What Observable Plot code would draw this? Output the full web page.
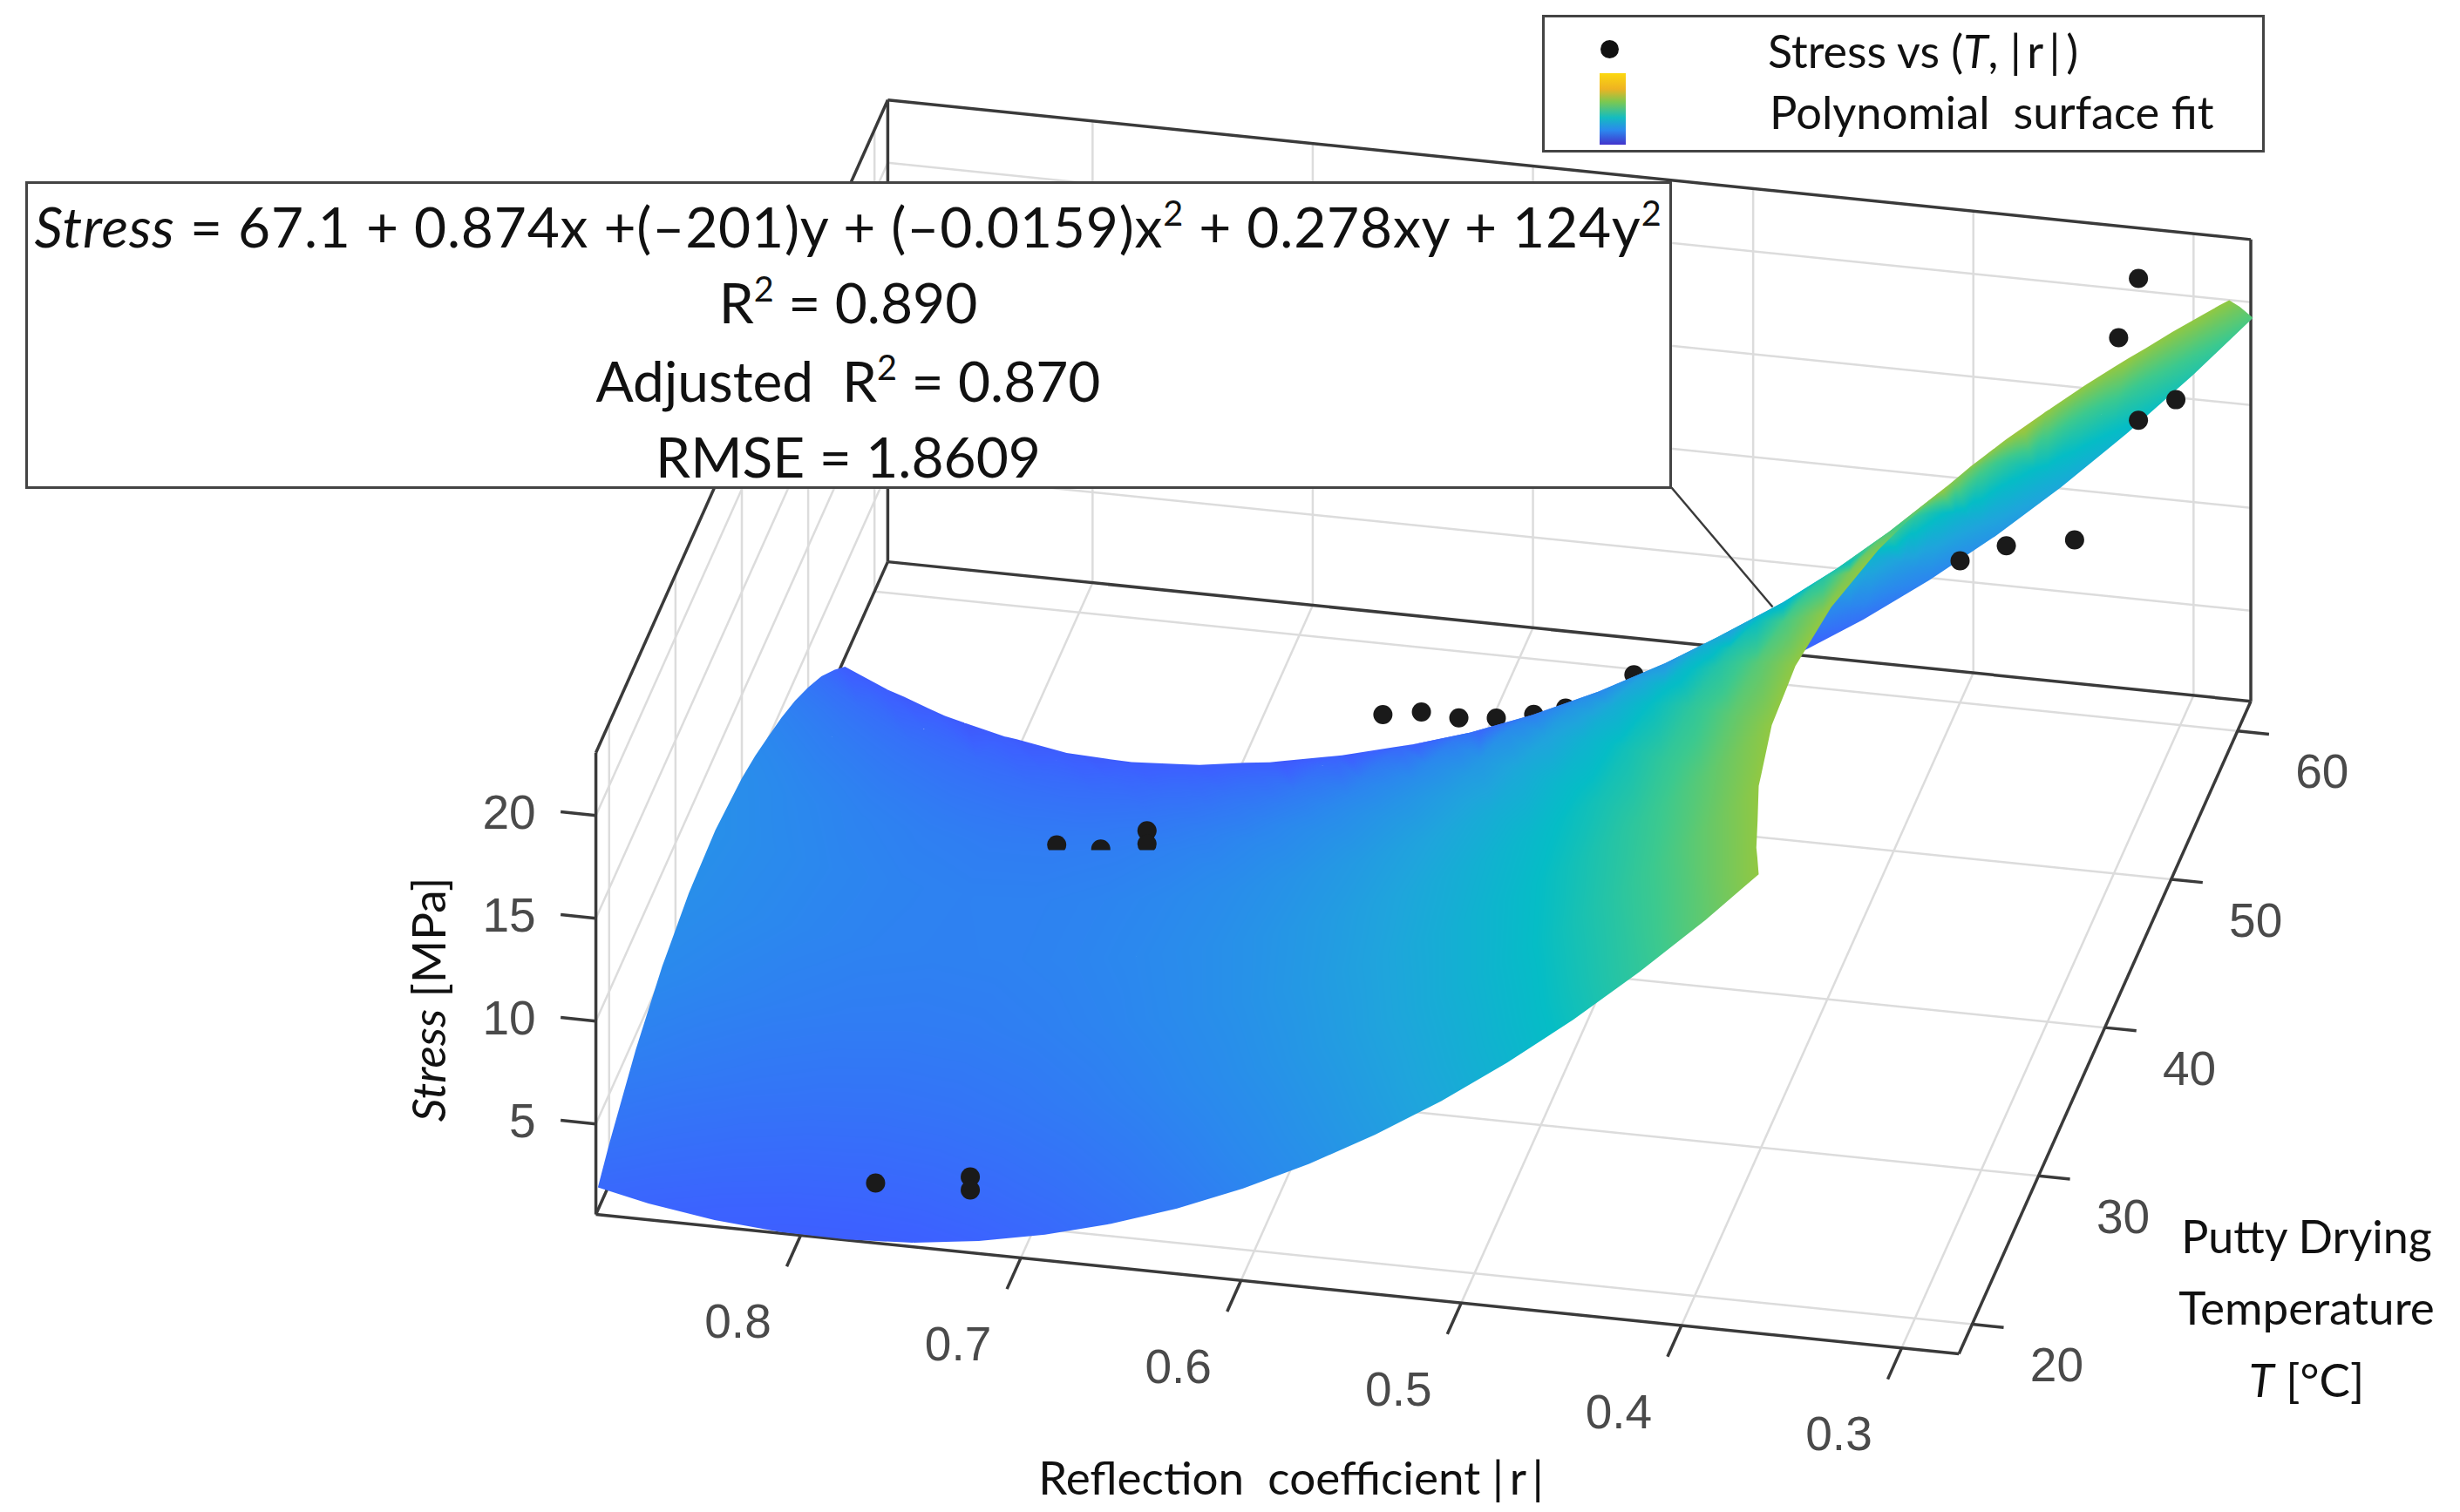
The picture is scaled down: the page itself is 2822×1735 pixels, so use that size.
<!DOCTYPE html>
<html>
<head>
<meta charset="utf-8">
<script src="https://cdn.jsdelivr.net/npm/d3@7"></script>
<script src="https://cdn.jsdelivr.net/npm/@observablehq/plot@0.6"></script>
<style>
html,body{margin:0;padding:0;background:#fff}
#wrap{position:relative;width:2822px;height:1735px;overflow:hidden;font-family:Lato,"Open Sans",sans-serif;color:#111}
#wrap svg{position:absolute;left:0;top:0}
.box{position:absolute;background:#fff;border:3px solid #444;box-sizing:border-box}
.t{position:absolute;white-space:pre;transform:translate(-50%,-50%);transform-origin:center}
.l{position:absolute;white-space:pre;transform:translateY(-50%)}
sup{font-size:.62em;line-height:0;vertical-align:.62em}
</style>
</head>
<body>
<div id="wrap"></div>
<script>
// Reflection coefficient |r| samples (columns) and drying temperature T samples (rows)
const rValues=[0.273,0.30,0.33,0.36,0.39,0.42,0.45,0.48,0.51,0.54,0.57,0.60,0.63,0.66,0.69,0.72,0.75,0.78,0.81,0.84,0.87,0.893];
const tValues=[18.3,20,24,28,32,36,40,42,44,46,48,50,52,54,56,58,60,62];
// Stress of the fitted surface at each (T, r)
const stressT18=[33.52,30.15,26.62,23.30,20.21,17.36,14.71,12.29,10.09,8.13,6.38,4.85,3.55,2.48,1.62,0.99,0.57,0.40,0.43,0.69,1.17,1.70];
const stressT20=[34.11,30.75,27.23,23.93,20.86,18.01,15.38,12.98,10.80,8.84,7.11,5.60,4.31,3.24,2.40,1.79,1.39,1.22,1.27,1.54,2.04,2.58];
const stressT24=[35.11,31.78,28.29,25.03,21.99,19.17,16.58,14.21,12.06,10.14,8.44,6.96,5.71,4.68,3.87,3.28,2.92,2.78,2.87,3.18,3.71,4.27];
const stressT28=[35.60,32.30,28.85,25.62,22.61,19.83,17.27,14.93,12.82,10.93,9.26,7.82,6.60,5.60,4.82,4.27,3.94,3.84,3.96,4.30,4.86,5.45];
const stressT32=[35.59,32.32,28.90,25.70,22.73,19.98,17.45,15.15,13.07,11.21,9.58,8.16,6.98,6.01,5.27,4.75,4.46,4.39,4.54,4.91,5.51,6.12];
const stressT36=[35.06,31.82,28.44,25.27,22.33,19.62,17.12,14.85,12.80,10.98,9.38,8.00,6.85,5.92,5.21,4.73,4.46,4.43,4.61,5.02,5.65,6.29];
const stressT40=[34.03,30.82,27.46,24.33,21.43,18.74,16.28,14.05,12.03,10.24,8.68,7.33,6.21,5.31,4.64,4.19,3.96,3.95,4.18,4.61,5.28,5.94];
const stressT42=[33.32,30.13,26.79,23.67,20.79,18.12,15.67,13.46,11.45,9.68,8.14,6.80,5.70,4.82,4.16,3.73,3.52,3.53,3.77,4.22,4.90,5.58];
const stressT44=[32.49,29.31,25.99,22.89,20.02,17.37,14.94,12.74,10.75,8.99,7.47,6.15,5.07,4.20,3.56,3.15,2.95,2.98,3.23,3.70,4.40,5.09];
const stressT46=[31.52,28.36,25.06,21.97,19.12,16.52,14.13,11.99,10.02,8.28,6.77,5.47,4.40,3.55,2.93,2.53,2.35,2.40,2.67,3.15,3.87,4.57];
const stressT48=[30.43,27.28,24.00,20.93,18.09,15.54,13.20,11.12,9.17,7.44,5.94,4.66,3.61,2.78,2.17,1.79,1.63,1.69,1.98,2.48,3.21,3.93];
const stressT50=[29.21,26.08,22.81,19.76,16.94,14.43,12.15,10.12,8.18,6.47,4.99,3.73,2.69,1.88,1.28,0.92,0.78,0.85,1.16,1.68,2.42,3.15];
const stressT52=[27.87,24.75,21.50,18.47,15.66,13.20,10.97,8.99,7.07,5.37,3.91,2.67,1.65,0.85,0.27,-0.07,-0.20,-0.11,0.21,0.75,1.51,2.25];
const stressT54=[26.40,23.30,20.06,17.04,14.26,11.81,9.59,7.63,5.73,4.05,2.61,1.38,0.38,-0.41,-0.97,-1.29,-1.41,-1.30,-0.96,-0.41,0.37,1.12];
const stressT56=[24.81,21.72,18.49,15.49,12.73,10.29,8.09,6.15,4.26,2.60,1.18,-0.04,-1.02,-1.79,-2.33,-2.64,-2.74,-2.62,-2.26,-1.69,-0.89,-0.13];
const stressT58=[23.08,20.01,16.80,13.81,11.07,8.64,6.43,4.49,2.62,0.97,-0.43,-1.63,-2.60,-3.35,-3.88,-4.17,-4.25,-4.11,-3.74,-3.15,-2.34,-1.56];
const stressT60=[21.23,18.17,14.98,12.01,9.28,6.84,4.62,2.65,0.80,-0.83,-2.22,-3.40,-4.35,-5.09,-5.60,-5.88,-5.94,-5.78,-5.39,-4.79,-3.96,-3.16];
const stressT62=[19.25,16.20,13.03,10.08,7.36,4.89,2.64,0.63,-1.20,-2.81,-4.19,-5.35,-6.28,-7.00,-7.50,-7.76,-7.81,-7.63,-7.22,-6.60,-5.76,-4.95];
const stressRows=[stressT18,stressT20,stressT24,stressT28,stressT32,stressT36,stressT40,stressT42,stressT44,stressT46,stressT48,stressT50,stressT52,stressT54,stressT56,stressT58,stressT60,stressT62];

// Measured samples, by drying temperature
const ptT=[20,20,20,40,60,60,60,60,60,60,60,50,50,50,50,50,50,50,40,40,40];
const ptR=[0.772,0.729,0.729,0.709,0.400,0.379,0.348,0.319,0.302,0.328,0.319,0.632,0.6145,0.5975,0.5805,0.5635,0.549,0.518,0.750,0.730,0.709];
const ptS=[2.01,2.78,2.14,5.40,7.49,8.45,9.08,15.21,16.40,19.13,22.11,4.68,5.00,4.90,5.08,5.44,5.91,7.87,4.27,4.28,4.76];
const ptLayer=["front","front","front","front","front","front","front","front","front","front","front","behind","behind","behind","behind","behind","behind","behind","cut","cut","cut"];

// Axis limits and ticks
const rLim=[0.274,0.893], tLim=[18,62], sLim=[0.6,23.05], surfaceLim=[0.15,22.7];
const rTicks=[0.8,0.7,0.6,0.5,0.4,0.3];
const tTicks=[20,30,40,50,60];
const sTicks=[5,10,15,20];
const colorLim=[-7.9,35.7];
const parula=["#3e26a8","#4545f5","#3c62ff","#2b88ee","#1fa5dc","#05bdc6","#3cc98f","#90c844","#d9b92f","#fcc52f","#f9fb15"];

// Oblique view of the box: screen position for (|r|, T, stress)
const px=(r,T,s)=>918+(0.8-r)*2526+(T-18)*7.61;
const py=(r,T,s)=>1393+(0.893-r)*258.6-(T-18)*17.02-(s-0.6)*23.6;
const P=(r,T,s)=>({r,T,s,x:px(r,T,s),y:py(r,T,s)});

// Triangulated surface, trimmed to the stress limits of the box
function clipS(poly,limit,keepAbove){
  const out=[];
  for(let i=0;i<poly.length;i++){
    const a=poly[i],b=poly[(i+1)%poly.length];
    const ia=keepAbove?a.s>=limit:a.s<=limit, ib=keepAbove?b.s>=limit:b.s<=limit;
    if(ia)out.push(a);
    if(ia!==ib){const f=(limit-a.s)/(b.s-a.s);out.push(P(a.r+f*(b.r-a.r),a.T+f*(b.T-a.T),limit));}
  }
  return out;
}
const sheets={front:{rings:[],pts:new Map()},back:{rings:[],pts:new Map()}};
function addTri(a,b,c){
  const area=(u,v,w)=>(v.x-u.x)*(w.y-u.y)-(v.y-u.y)*(w.x-u.x);
  const flat=p=>P(p.r,p.T,0.6);
  const facing=area(a,b,c)*area(flat(a),flat(b),flat(c))>0?"front":"back";
  let poly=clipS(clipS([a,b,c],surfaceLim[0],true),surfaceLim[1],false);
  if(poly.length<3)return;
  const ring=poly.map(p=>[p.x,p.y]);ring.push(ring[0]);
  if(d3.polygonArea(poly.map(p=>[p.x,p.y]))>0)ring.reverse();
  sheets[facing].rings.push([ring]);
  for(const p of [a,b,c])sheets[facing].pts.set(p.r+"_"+p.T,p);
}
for(let j=0;j<tValues.length-1;j++)for(let i=0;i<rValues.length-1;i++){
  const v=(ii,jj)=>P(rValues[ii],tValues[jj],stressRows[jj][ii]);
  addTri(v(i,j),v(i+1,j),v(i,j+1));
  addTri(v(i+1,j),v(i+1,j+1),v(i,j+1));
}
const sheetMark=k=>Plot.raster([...sheets[k].pts.values()],{
  x:"x",y:"y",fill:"s",interpolate:"barycentric",pixelSize:1,
  clip:{type:"MultiPolygon",coordinates:sheets[k].rings}
});

// Grid and box lines
const seg=(a,b)=>({x1:a.x,y1:a.y,x2:b.x,y2:b.y});
const [rA,rB]=rLim,[tA,tB]=tLim,[sA,sB]=sLim;
const gridLines=[
  ...rTicks.flatMap(r=>[seg(P(r,tA,sA),P(r,tB,sA)),seg(P(r,tB,sA),P(r,tB,sB))]),
  ...tTicks.flatMap(T=>[seg(P(rA,T,sA),P(rB,T,sA)),seg(P(rB,T,sA),P(rB,T,sB))]),
  ...sTicks.flatMap(s=>[seg(P(rB,tA,s),P(rB,tB,s)),seg(P(rB,tB,s),P(rA,tB,s))])
];
const boxLines=[
  seg(P(rB,tA,sA),P(rA,tA,sA)),seg(P(rA,tA,sA),P(rA,tB,sA)),seg(P(rA,tB,sA),P(rB,tB,sA)),seg(P(rB,tB,sA),P(rB,tA,sA)),
  seg(P(rB,tA,sA),P(rB,tA,sB)),seg(P(rB,tB,sA),P(rB,tB,sB)),seg(P(rA,tB,sA),P(rA,tB,sB)),
  seg(P(rB,tA,sB),P(rB,tB,sB)),seg(P(rB,tB,sB),P(rA,tB,sB))
];
const tickLines=[
  ...rTicks.map(r=>seg(P(r,tA,sA),P(r,tA-2.1,sA))),
  ...tTicks.map(T=>seg(P(rA,T,sA),P(rA-0.0143,T,sA))),
  ...sTicks.map(s=>seg(P(rB,tA,s),P(rB+0.016,tA,s)))
];
const points=ptT.map((T,i)=>({...P(ptR[i],T,ptS[i]),layer:ptLayer[i]}));
const layer=k=>points.filter(d=>d.layer===k);
const lineOpts={x1:"x1",y1:"y1",x2:"x2",y2:"y2"};
const cutBand={type:"Polygon",coordinates:[[[1150,900],[1150,975],[1350,975],[1350,900],[1150,900]]]};
const callout=[{x1:1917,y1:559,x2:2033,y2:696}];

const tickFont={fontFamily:"'Liberation Sans',Arial,sans-serif",fontSize:55,fill:"#4a4a4a",stroke:"none"};
const chart=Plot.plot({
  width:2822,height:1735,margin:0,
  style:{background:"transparent"},
  x:{domain:[0,2822],range:[0,2822],axis:null},
  y:{domain:[0,1735],range:[0,1735],axis:null},
  color:{type:"linear",domain:colorLim,interpolate:d3.piecewise(d3.interpolateRgb,parula),clamp:true},
  marks:[
    Plot.link(gridLines,{...lineOpts,stroke:"#dcdcdc",strokeWidth:2.5}),
    Plot.link(boxLines,{...lineOpts,stroke:"#3a3a3a",strokeWidth:3.5}),
    Plot.link(tickLines,{...lineOpts,stroke:"#3a3a3a",strokeWidth:3.5}),
    Plot.dot(layer("behind"),{x:"x",y:"y",r:11,fill:"#1a1a1a"}),
    sheetMark("back"),
    sheetMark("front"),
    Plot.dot(layer("front"),{x:"x",y:"y",r:11,fill:"#1a1a1a"}),
    Plot.dot(layer("cut"),{x:"x",y:"y",r:11,fill:"#1a1a1a",clip:cutBand}),
    Plot.link(callout,{...lineOpts,stroke:"#3a3a3a",strokeWidth:2.5}),
    Plot.text(rTicks,{x:r=>px(r,tA,sA),y:r=>py(r,tA,sA),text:r=>r.toFixed(1),dx:-72,dy:100,...tickFont}),
    Plot.text(tTicks,{x:T=>px(rA,T,sA),y:T=>py(rA,T,sA),text:T=>String(T),dx:97,dy:48,...tickFont}),
    Plot.text(sTicks,{x:s=>px(rB,tA,s),y:s=>py(rB,tA,s),text:s=>String(s),dx:-69,dy:-2,textAnchor:"end",...tickFont})
  ]
});
const wrap=document.getElementById("wrap");
wrap.appendChild(chart);
const add=html=>wrap.insertAdjacentHTML("beforeend",html);
// Fit statistics box
add(`<div class="box" style="left:29px;top:208px;width:1889px;height:353px"></div>`);
const eqFont="font-size:64px;";
add(`<div class="t" style="left:973px;top:259px;${eqFont}letter-spacing:.8px"><i>Stress</i> = 67.1 + 0.874x +(–201)y + (–0.0159)x<sup>2</sup> + 0.278xy + 124y<sup>2</sup></div>`);
add(`<div class="t" style="left:973px;top:346px;${eqFont}">R<sup>2</sup> = 0.890</div>`);
add(`<div class="t" style="left:973px;top:436px;${eqFont}">Adjusted&nbsp; R<sup>2</sup> = 0.870</div>`);
add(`<div class="t" style="left:973px;top:523px;${eqFont}">RMSE = 1.8609</div>`);
// Legend
add(`<div class="box" style="left:1769px;top:17px;width:829px;height:158px"></div>`);
add(`<div style="position:absolute;left:1836px;top:46px;width:21px;height:21px;border-radius:50%;background:#111"></div>`);
add(`<div style="position:absolute;left:1835px;top:84px;width:30px;height:82px;background:linear-gradient(to bottom,#fcd80f 0%,#eeb322 22%,#7cc850 40%,#14bcc0 62%,#2b88ee 80%,#4233cc 100%)"></div>`);
add(`<div class="l" style="left:2028px;top:58px;font-size:52px">Stress vs (<i>T</i>, |&#8201;r&#8201;|&#8201;)</div>`);
add(`<div class="l" style="left:2030px;top:127px;font-size:52.5px">Polynomial&nbsp; surface fit</div>`);
// Axis titles
add(`<div class="t" style="left:1481px;top:1694px;font-size:53px">Reflection&nbsp; coefficient |&#8201;r&#8201;|</div>`);
add(`<div class="t" style="left:2646px;top:1418px;font-size:52px">Putty Drying</div>`);
add(`<div class="t" style="left:2646px;top:1499px;font-size:53px">Temperature</div>`);
add(`<div class="t" style="left:2646px;top:1582px;font-size:53px"><i>T</i> [°C]</div>`);
add(`<div class="t" style="left:490px;top:1147px;font-size:53px;transform:translate(-50%,-50%) rotate(-90deg)"><i>Stress</i> [MPa]</div>`);
</script>
</body>
</html>
